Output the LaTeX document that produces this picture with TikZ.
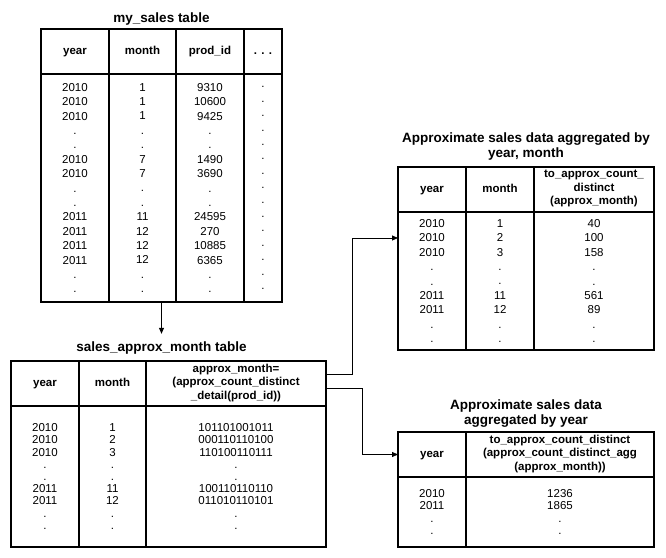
\documentclass[tikz,border=0pt]{standalone}
\usepackage{fontspec}
\setmainfont{Liberation Sans}
\usetikzlibrary{arrows.meta, positioning, fit}
\tikzset{
  hcell/.style={rectangle, draw, line width=1.2pt, inner sep=0pt, outer sep=0pt,
                minimum height=45pt, align=center,
                font=\fontsize{11.5}{13.5}\selectfont\bfseries,
                execute at begin node=\strut, execute at end node=\strut},
  bcell/.style={rectangle, draw, line width=1.2pt, inner sep=0pt, outer sep=0pt,
                align=center, font=\fontsize{11.5}{14.4}\selectfont},
  tight/.style={font=\fontsize{11.5}{12.2}\selectfont},
  lowered/.style={execute at begin node={\rule{0pt}{18pt}}},
  title/.style={inner sep=0pt, align=center,
                font=\fontsize{13.5}{15}\selectfont\bfseries},
  conn/.style={-{Triangle[length=6pt, width=5pt]}, line width=0.8pt},
}

\begin{document}
\begin{tikzpicture}[x=1pt, y=1pt]
  \useasboundingbox (0,0) rectangle (666,557);

  % my_sales table
  \node[hcell, minimum width=68pt, anchor=north west] (h1a) at (41,528) {year};
  \node[hcell, minimum width=67pt, right=0pt of h1a] (h1b) {month};
  \node[hcell, minimum width=68pt, right=0pt of h1b] (h1c) {prod\_id};
  \node[hcell, minimum width=38pt, right=0pt of h1c] (h1d) {. . .};
  \node[bcell, minimum width=68pt, minimum height=228pt, below=0pt of h1a] (b1a)
    {2010\\2010\\2010\\.\\.\\2010\\2010\\.\\.\\2011\\2011\\2011\\2011\\.\\.};
  \node[bcell, minimum width=67pt, minimum height=228pt, below=0pt of h1b] (b1b)
    {1\\1\\1\\.\\.\\7\\7\\.\\.\\11\\12\\12\\12\\.\\.};
  \node[bcell, minimum width=68pt, minimum height=228pt, below=0pt of h1c] (b1c)
    {9310\\10600\\9425\\.\\.\\1490\\3690\\.\\.\\24595\\270\\10885\\6365\\.\\.};
  \node[bcell, minimum width=38pt, minimum height=228pt, below=0pt of h1d] (b1d)
    {.\\.\\.\\.\\.\\.\\.\\.\\.\\.\\.\\.\\.\\.\\.};
  \node[fit=(h1a)(b1d), inner sep=0pt] (tab1) {};
  \node[title, above=3pt of tab1] (title1) {my\_sales table};

  % sales_approx_month table
  \node[hcell, minimum width=68pt, anchor=north west] (h2a) at (11,196) {year};
  \node[hcell, minimum width=67pt, right=0pt of h2a] (h2b) {month};
  \node[hcell, minimum width=180pt, right=0pt of h2b] (h2c)
    {approx\_month=\\(approx\_count\_distinct\\\_detail(prod\_id))};
  \node[bcell, tight, lowered, minimum width=68pt, minimum height=141pt,
        below=0pt of h2a] (b2a)
    {2010\\2010\\2010\\.\\.\\2011\\2011\\.\\.};
  \node[bcell, tight, lowered, minimum width=67pt, minimum height=141pt,
        below=0pt of h2b] (b2b)
    {1\\2\\3\\.\\.\\11\\12\\.\\.};
  \node[bcell, tight, lowered, minimum width=180pt, minimum height=141pt,
        below=0pt of h2c] (b2c)
    {101101001011\\000110110100\\110100110111\\.\\.\\100110110110\\011010110101\\.\\.};
  \node[fit=(h2a)(b2c), inner sep=0pt] (tab2) {};
  \node[title, anchor=south] (title2) at ([yshift=6pt]tab2.north -| tab1.south)
    {sales\_approx\_month table};

  % aggregated by year, month
  \node[hcell, minimum width=68pt, anchor=north west] (h3a) at (398,390) {year};
  \node[hcell, minimum width=68pt, right=0pt of h3a] (h3b) {month};
  \node[hcell, minimum width=120pt, right=0pt of h3b] (h3c)
    {to\_approx\_count\_\\distinct\\(approx\_month)};
  \node[bcell, minimum width=68pt, minimum height=138pt, below=0pt of h3a] (b3a)
    {2010\\2010\\2010\\.\\.\\2011\\2011\\.\\.};
  \node[bcell, minimum width=68pt, minimum height=138pt, below=0pt of h3b] (b3b)
    {1\\2\\3\\.\\.\\11\\12\\.\\.};
  \node[bcell, minimum width=120pt, minimum height=138pt, below=0pt of h3c] (b3c)
    {40\\100\\158\\.\\.\\561\\89\\.\\.};
  \node[fit=(h3a)(b3c), inner sep=0pt] (tab3) {};
  \node[title, above=6pt of tab3] (title3)
    {Approximate sales data aggregated by\\year, month};

  % aggregated by year
  \node[hcell, minimum width=68pt, anchor=north west] (h4a) at (398,125) {year};
  \node[hcell, minimum width=188pt, right=0pt of h4a] (h4b)
    {to\_approx\_count\_distinct\\(approx\_count\_distinct\_agg\\(approx\_month))};
  \node[bcell, tight, minimum width=68pt, minimum height=70pt, below=0pt of h4a] (b4a)
    {2010\\2011\\.\\.};
  \node[bcell, tight, minimum width=188pt, minimum height=70pt, below=0pt of h4b] (b4b)
    {1236\\1865\\.\\.};
  \node[fit=(h4a)(b4b), inner sep=0pt] (tab4) {};
  \node[title, above=4pt of tab4] (title4)
    {Approximate sales data\\aggregated by year};

  % connectors
  \draw[conn, shorten >=8pt] (tab1.south) -- (title2.north);
  \draw[conn] ([yshift=9.5pt]h2c.east) -- ++(26,0) |- ([yshift=43pt]b3a.west);
  \draw[conn] ([yshift=-4.5pt]h2c.east) -- ++(36,0) |- (h4a.west);
\end{tikzpicture}
\end{document}
